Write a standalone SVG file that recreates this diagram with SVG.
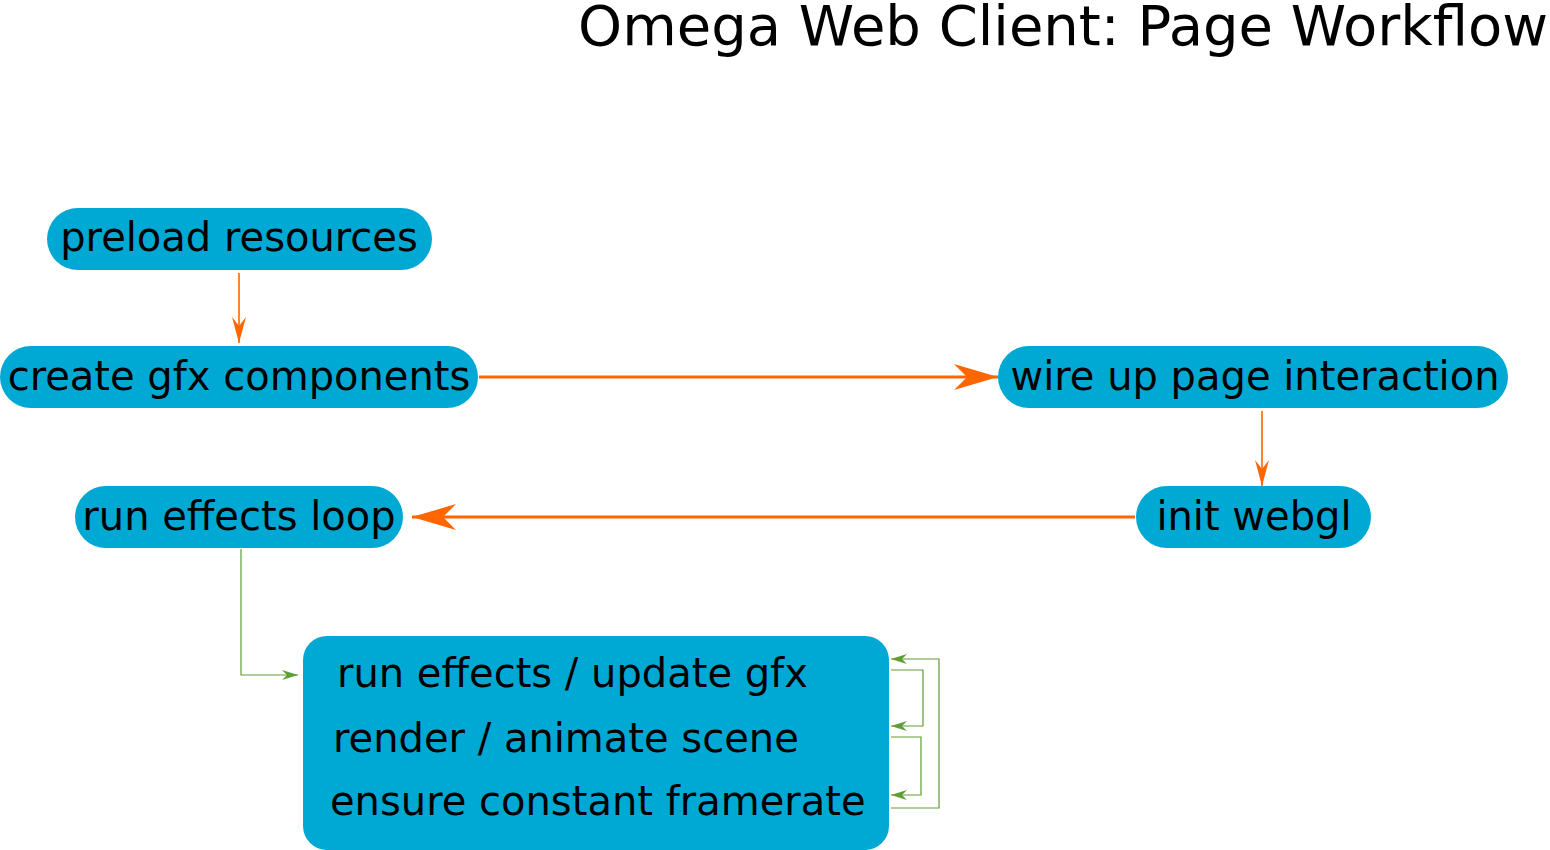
<svg xmlns="http://www.w3.org/2000/svg" width="1550" height="850" viewBox="0 0 1550 850">
<style>
.node{fill:#00A8D4}
.lbl{font-family:"DejaVu Sans",sans-serif;font-size:40px;fill:#000}
.title{font-family:"DejaVu Sans",sans-serif;font-size:56px;fill:#000}
.o1{stroke:#FF6600;stroke-width:1.6;fill:none}
.o2{stroke:#FF6600;stroke-width:3;fill:none}
.g{stroke:#5E9E34;stroke-width:1.2;fill:none}
</style>
<defs>
<marker id="aSmall" viewBox="0 0 26 14" refX="26" refY="7" markerWidth="26" markerHeight="14" markerUnits="userSpaceOnUse" orient="auto">
<path d="M26,7 L0,0 L9,7 L0,14 Z" fill="#FF6600"/>
</marker>
<marker id="aBig" viewBox="0 0 44 26" refX="44" refY="13" markerWidth="44" markerHeight="26" markerUnits="userSpaceOnUse" orient="auto">
<path d="M44,13 L0,0 L13,13 L0,26 Z" fill="#FF6600"/>
</marker>
<marker id="aG" viewBox="0 0 16 10" refX="16" refY="5" markerWidth="16" markerHeight="10" markerUnits="userSpaceOnUse" orient="auto">
<path d="M16,5 L0,0 L5,5 L0,10 Z" fill="#5E9E34"/>
</marker>
</defs>
<text class="title" x="1548" y="45" text-anchor="end">Omega Web Client: Page Workflow</text>
<g id="connectors">
<path class="o1" d="M239,273 L239,343" marker-end="url(#aSmall)"/>
<path class="o2" d="M479,377 L998,377" marker-end="url(#aBig)"/>
<path class="o1" d="M1262,411 L1262,486" marker-end="url(#aSmall)"/>
<path class="o2" d="M1135,517 L412,517" marker-end="url(#aBig)"/>
<path class="g" d="M241,549 L241,675 L298,675" marker-end="url(#aG)"/>
<path class="g" d="M891,670 L923,670 L923,726 L891,726" marker-end="url(#aG)"/>
<path class="g" d="M891,737 L921,737 L921,795 L891,795" marker-end="url(#aG)"/>
<path class="g" d="M891,808 L939,808 L939,659 L891,659" marker-end="url(#aG)"/>
</g>
<g id="preload">
<rect class="node" x="47" y="208" width="385" height="62" rx="31"/>
<text class="lbl" x="239" y="251" text-anchor="middle">preload resources</text>
</g>
<g id="create">
<rect class="node" x="0" y="346" width="478" height="62" rx="31"/>
<text class="lbl" x="239" y="390" text-anchor="middle">create gfx components</text>
</g>
<g id="wire">
<rect class="node" x="998" y="346" width="510" height="62" rx="31"/>
<text class="lbl" x="1255" y="390" text-anchor="middle">wire up page interaction</text>
</g>
<g id="init">
<rect class="node" x="1136" y="486" width="235" height="62" rx="31"/>
<text class="lbl" x="1254" y="530" text-anchor="middle">init webgl</text>
</g>
<g id="runloop">
<rect class="node" x="75" y="486" width="328" height="62" rx="31"/>
<text class="lbl" x="239" y="530" text-anchor="middle">run effects loop</text>
</g>
<g id="loopbox">
<rect class="node" x="303" y="636" width="586" height="214" rx="24"/>
<text class="lbl" x="337" y="687">run effects / update gfx</text>
<text class="lbl" x="333" y="752">render / animate scene</text>
<text class="lbl" x="330" y="815">ensure constant framerate</text>
</g>
</svg>
